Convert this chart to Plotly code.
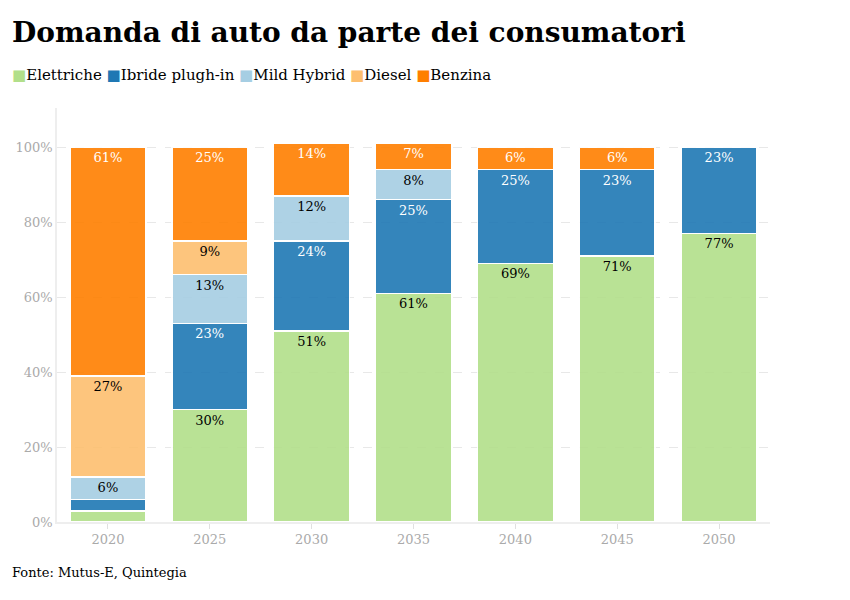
import plotly.graph_objects as go

# --- dati ---
anni = ["2020", "2025", "2030", "2035", "2040", "2045", "2050"]
elettriche = [3, 30, 51, 61, 69, 71, 77]
ibride = [3, 23, 24, 25, 25, 23, 23]
mild_hybrid = [6, 13, 12, 8, None, None, None]
diesel = [27, 9, None, None, None, None, None]
benzina = [61, 25, 14, 7, 6, 6, None]
tick_y = [0, 20, 40, 60, 80, 100]

# etichette nascoste sui segmenti troppo piccoli (2020)
nascondi = {("Elettriche", "2020"), ("Ibride plugh-in", "2020")}

serie = [
    ("Elettriche", elettriche, "#b2df8a", "#000000"),
    ("Ibride plugh-in", ibride, "#1f78b4", "#ffffff"),
    ("Mild Hybrid", mild_hybrid, "#a6cee3", "#000000"),
    ("Diesel", diesel, "#fdbf6f", "#000000"),
    ("Benzina", benzina, "#ff7f00", "#ffffff"),
]

FONT = "DejaVu Serif"

fig = go.Figure()
for nome, valori, colore, col_testo in serie:
    testi = []
    for a, v in zip(anni, valori):
        if v is None or (nome, a) in nascondi:
            testi.append("")
        else:
            testi.append(f"{v}%")
    fig.add_trace(go.Bar(
        name=nome, x=anni, y=valori,
        marker=dict(color=colore, opacity=0.9, line=dict(color="white", width=1.5)),
        text=testi, texttemplate="%{text}", textposition="inside",
        insidetextanchor="end", textangle=0,
        textfont=dict(family=FONT, size=13, color=col_testo),
        hovertemplate="%{x}: %{y}%<extra>" + nome + "</extra>",
    ))

# legenda fatta a mano (quadratini colorati + testo)
legenda = "".join(
    f"<span style='color:{colore}'>■</span>{nome} " for nome, _, colore, _ in serie
)

fig.update_layout(
    width=850, height=600,
    barmode="stack", bargap=0.255,
    plot_bgcolor="white", paper_bgcolor="white",
    margin=dict(l=49, r=88, t=100, b=86),
    font=dict(family=FONT, size=13, color="#000"),
    title=dict(text="<b>Domanda di auto da parte dei consumatori</b>",
               x=4 / 850, xanchor="left", xref="container",
               y=1 - 24 / 600, yanchor="middle", yref="container",
               font=dict(family=FONT, size=28, color="#000")),
    showlegend=False,
)
fig.update_xaxes(showline=True, linecolor="#eeeeee", linewidth=1.5,
                 ticks="outside", tickcolor="#e0e0e0", ticklen=5,
                 tickfont=dict(color="#aaaaaa", size=13), showgrid=False,
                 automargin=False)
fig.update_yaxes(range=[0, 110.4], tickvals=tick_y, ticktext=[f"{v}%" for v in tick_y],
                 showline=True, linecolor="#eeeeee", linewidth=1.5,
                 gridcolor="#e8e8e8", griddash="dash", zeroline=False,
                 tickfont=dict(color="#aaaaaa", size=13), automargin=False)

fig.add_annotation(text=legenda, xref="paper", yref="paper",
                   x=(2 - 49) / 713, y=(514 - 67) / 414, xanchor="left", yanchor="middle",
                   showarrow=False, font=dict(family=FONT, size=15, color="#000"))

fig.add_annotation(text="Fonte: Mutus-E, Quintegia", xref="paper", yref="paper",
                   x=(2 - 49) / 713, y=-(564 - 514) / 414, xanchor="left", yanchor="middle",
                   showarrow=False, font=dict(family=FONT, size=13, color="#000"))

fig.write_html("out.html")
